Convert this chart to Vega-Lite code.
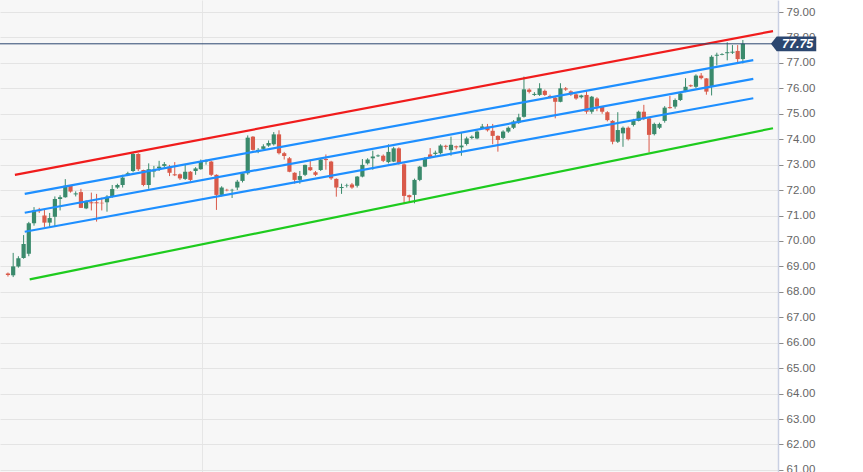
{
  "$schema": "https://vega.github.io/schema/vega-lite/v6.json",
  "width": 778,
  "height": 472,
  "autosize": {"type": "none"},
  "padding": {"left": 0, "top": 0, "right": 85, "bottom": 0},
  "background": "#ffffff",
  "config": {
    "view": {"fill": "#f7f7f7", "stroke": null},
    "font": "Liberation Sans"
  },
  "datasets": {
    "candles": [
      {"i":0,"o":68.72,"h":68.76,"l":68.60,"c":68.66},
      {"i":1,"o":68.65,"h":69.53,"l":68.58,"c":69.00},
      {"i":2,"o":69.00,"h":69.40,"l":68.95,"c":69.32},
      {"i":3,"o":69.33,"h":70.23,"l":69.30,"c":69.88},
      {"i":4,"o":69.50,"h":70.75,"l":69.40,"c":70.70},
      {"i":5,"o":70.70,"h":71.33,"l":70.60,"c":71.20},
      {"i":6,"o":71.22,"h":71.30,"l":71.10,"c":71.17},
      {"i":7,"o":71.00,"h":71.22,"l":70.55,"c":70.72},
      {"i":8,"o":70.72,"h":71.10,"l":70.55,"c":70.90},
      {"i":9,"o":70.95,"h":71.75,"l":70.55,"c":71.65},
      {"i":10,"o":71.65,"h":71.80,"l":71.20,"c":71.72},
      {"i":11,"o":71.72,"h":72.43,"l":71.70,"c":72.17},
      {"i":12,"o":72.17,"h":72.20,"l":71.90,"c":71.94},
      {"i":13,"o":71.83,"h":71.95,"l":71.75,"c":71.87},
      {"i":14,"o":71.92,"h":72.05,"l":71.30,"c":71.30},
      {"i":15,"o":71.28,"h":71.60,"l":71.25,"c":71.54},
      {"i":16,"o":71.52,"h":71.90,"l":71.20,"c":71.48},
      {"i":17,"o":71.52,"h":71.85,"l":70.76,"c":71.48},
      {"i":18,"o":71.50,"h":71.70,"l":71.20,"c":71.48},
      {"i":19,"o":71.52,"h":71.80,"l":71.15,"c":71.74},
      {"i":20,"o":71.74,"h":72.20,"l":71.70,"c":72.04},
      {"i":21,"o":72.10,"h":72.25,"l":72.05,"c":72.20},
      {"i":22,"o":72.20,"h":72.60,"l":72.10,"c":72.49},
      {"i":23,"o":72.58,"h":72.72,"l":72.55,"c":72.66},
      {"i":24,"o":72.75,"h":73.48,"l":72.70,"c":73.42},
      {"i":25,"o":73.42,"h":73.45,"l":72.75,"c":72.82},
      {"i":26,"o":72.79,"h":72.80,"l":72.15,"c":72.20},
      {"i":27,"o":72.20,"h":73.05,"l":72.05,"c":72.82},
      {"i":28,"o":72.73,"h":72.95,"l":72.50,"c":72.80},
      {"i":29,"o":72.86,"h":73.15,"l":72.75,"c":72.92},
      {"i":30,"o":72.95,"h":73.10,"l":72.90,"c":73.02},
      {"i":31,"o":72.92,"h":72.99,"l":72.55,"c":72.68},
      {"i":32,"o":72.62,"h":73.10,"l":72.55,"c":72.58},
      {"i":33,"o":72.62,"h":72.65,"l":72.40,"c":72.46},
      {"i":34,"o":72.44,"h":72.99,"l":72.40,"c":72.72},
      {"i":35,"o":72.72,"h":72.75,"l":72.35,"c":72.40},
      {"i":36,"o":72.75,"h":72.90,"l":72.60,"c":72.85},
      {"i":37,"o":72.82,"h":73.20,"l":72.80,"c":73.12},
      {"i":38,"o":73.12,"h":73.20,"l":73.00,"c":73.16},
      {"i":39,"o":73.12,"h":73.15,"l":72.55,"c":72.60},
      {"i":40,"o":72.60,"h":72.62,"l":71.22,"c":71.81},
      {"i":41,"o":71.81,"h":72.15,"l":71.75,"c":72.10},
      {"i":42,"o":72.01,"h":72.05,"l":71.95,"c":71.99},
      {"i":43,"o":71.99,"h":72.05,"l":71.69,"c":72.01},
      {"i":44,"o":72.10,"h":72.40,"l":72.00,"c":72.33},
      {"i":45,"o":72.36,"h":72.70,"l":72.30,"c":72.66},
      {"i":46,"o":72.66,"h":74.15,"l":72.60,"c":74.06},
      {"i":47,"o":74.10,"h":74.12,"l":73.55,"c":73.58},
      {"i":48,"o":73.52,"h":73.65,"l":73.45,"c":73.58},
      {"i":49,"o":73.62,"h":73.80,"l":73.58,"c":73.72},
      {"i":50,"o":73.75,"h":73.95,"l":73.70,"c":73.85},
      {"i":51,"o":73.80,"h":74.28,"l":73.75,"c":74.19},
      {"i":52,"o":74.19,"h":74.35,"l":73.40,"c":73.45},
      {"i":53,"o":73.45,"h":73.50,"l":73.20,"c":73.34},
      {"i":54,"o":73.25,"h":73.30,"l":72.70,"c":72.72},
      {"i":55,"o":72.68,"h":72.70,"l":72.25,"c":72.40},
      {"i":56,"o":72.40,"h":72.75,"l":72.25,"c":72.55},
      {"i":57,"o":72.60,"h":73.00,"l":72.55,"c":72.99},
      {"i":58,"o":72.90,"h":73.20,"l":72.75,"c":72.78},
      {"i":59,"o":72.70,"h":72.75,"l":72.55,"c":72.60},
      {"i":60,"o":72.79,"h":73.25,"l":72.75,"c":73.20},
      {"i":61,"o":73.22,"h":73.40,"l":72.80,"c":73.18},
      {"i":62,"o":73.12,"h":73.15,"l":72.40,"c":72.46},
      {"i":63,"o":72.44,"h":72.46,"l":71.74,"c":72.10},
      {"i":64,"o":72.08,"h":72.25,"l":71.85,"c":72.12},
      {"i":65,"o":72.18,"h":72.25,"l":72.10,"c":72.20},
      {"i":66,"o":72.22,"h":72.28,"l":72.05,"c":72.10},
      {"i":67,"o":72.17,"h":72.55,"l":72.10,"c":72.53},
      {"i":68,"o":72.53,"h":73.22,"l":72.50,"c":72.99},
      {"i":69,"o":73.05,"h":73.25,"l":73.00,"c":73.20},
      {"i":70,"o":73.25,"h":73.55,"l":72.80,"c":73.32},
      {"i":71,"o":73.33,"h":73.40,"l":73.30,"c":73.36},
      {"i":72,"o":73.35,"h":73.40,"l":73.10,"c":73.15},
      {"i":73,"o":73.10,"h":73.80,"l":73.05,"c":73.50},
      {"i":74,"o":73.12,"h":73.70,"l":73.10,"c":73.64},
      {"i":75,"o":73.64,"h":73.68,"l":73.00,"c":73.05},
      {"i":76,"o":73.01,"h":73.05,"l":71.48,"c":71.77},
      {"i":77,"o":71.80,"h":71.82,"l":71.50,"c":71.72},
      {"i":78,"o":71.81,"h":72.45,"l":71.48,"c":72.40},
      {"i":79,"o":72.40,"h":72.95,"l":72.35,"c":72.92},
      {"i":80,"o":72.92,"h":73.30,"l":72.90,"c":73.25},
      {"i":81,"o":73.40,"h":73.65,"l":73.25,"c":73.30},
      {"i":82,"o":73.42,"h":73.55,"l":73.35,"c":73.47},
      {"i":83,"o":73.45,"h":73.80,"l":73.40,"c":73.75},
      {"i":84,"o":73.74,"h":73.78,"l":73.60,"c":73.70},
      {"i":85,"o":73.57,"h":74.10,"l":73.35,"c":73.78},
      {"i":86,"o":73.72,"h":73.75,"l":73.60,"c":73.68},
      {"i":87,"o":73.68,"h":74.25,"l":73.35,"c":73.75},
      {"i":88,"o":73.81,"h":74.10,"l":73.75,"c":74.03},
      {"i":89,"o":74.05,"h":74.15,"l":74.00,"c":74.10},
      {"i":90,"o":74.03,"h":74.35,"l":74.00,"c":74.30},
      {"i":91,"o":74.43,"h":74.60,"l":74.40,"c":74.50},
      {"i":92,"o":74.50,"h":74.60,"l":74.30,"c":74.35},
      {"i":93,"o":74.33,"h":74.60,"l":73.80,"c":74.13},
      {"i":94,"o":74.13,"h":74.15,"l":73.51,"c":73.97},
      {"i":95,"o":74.05,"h":74.35,"l":74.00,"c":74.30},
      {"i":96,"o":74.30,"h":74.50,"l":74.25,"c":74.45},
      {"i":97,"o":74.45,"h":74.75,"l":74.40,"c":74.70},
      {"i":98,"o":74.65,"h":75.00,"l":74.60,"c":74.86},
      {"i":99,"o":74.88,"h":76.46,"l":74.85,"c":75.96},
      {"i":100,"o":75.95,"h":76.00,"l":75.80,"c":75.86},
      {"i":101,"o":75.74,"h":75.85,"l":75.70,"c":75.78},
      {"i":102,"o":75.74,"h":76.20,"l":75.70,"c":76.00},
      {"i":103,"o":75.90,"h":75.95,"l":75.70,"c":75.74},
      {"i":104,"o":75.70,"h":75.75,"l":75.60,"c":75.65},
      {"i":105,"o":75.63,"h":75.70,"l":74.82,"c":75.47},
      {"i":106,"o":75.47,"h":76.20,"l":75.45,"c":76.00},
      {"i":107,"o":76.00,"h":76.05,"l":75.90,"c":75.95},
      {"i":108,"o":75.88,"h":75.92,"l":75.70,"c":75.76},
      {"i":109,"o":75.76,"h":75.80,"l":75.55,"c":75.60},
      {"i":110,"o":75.65,"h":75.75,"l":75.60,"c":75.72},
      {"i":111,"o":75.74,"h":75.90,"l":75.00,"c":75.08},
      {"i":112,"o":75.08,"h":75.70,"l":75.00,"c":75.67},
      {"i":113,"o":75.60,"h":75.65,"l":75.10,"c":75.28},
      {"i":114,"o":75.28,"h":75.30,"l":75.00,"c":75.08},
      {"i":115,"o":75.06,"h":75.10,"l":74.70,"c":74.75},
      {"i":116,"o":74.72,"h":74.75,"l":73.80,"c":73.90},
      {"i":117,"o":73.90,"h":75.06,"l":73.85,"c":74.36},
      {"i":118,"o":74.23,"h":74.50,"l":73.70,"c":74.45},
      {"i":119,"o":74.45,"h":74.50,"l":73.95,"c":74.00},
      {"i":120,"o":74.56,"h":74.80,"l":74.50,"c":74.72},
      {"i":121,"o":74.72,"h":75.12,"l":74.70,"c":75.08},
      {"i":122,"o":75.08,"h":75.35,"l":74.75,"c":74.80},
      {"i":123,"o":74.82,"h":74.85,"l":73.48,"c":74.17},
      {"i":124,"o":74.20,"h":74.65,"l":74.15,"c":74.60},
      {"i":125,"o":74.45,"h":74.65,"l":74.40,"c":74.60},
      {"i":126,"o":74.72,"h":75.30,"l":74.65,"c":75.24},
      {"i":127,"o":75.26,"h":75.70,"l":75.20,"c":75.22},
      {"i":128,"o":75.28,"h":75.60,"l":75.20,"c":75.54},
      {"i":129,"o":75.54,"h":75.85,"l":75.50,"c":75.80},
      {"i":130,"o":75.90,"h":76.40,"l":75.85,"c":76.06},
      {"i":131,"o":76.12,"h":76.15,"l":76.05,"c":76.08},
      {"i":132,"o":76.06,"h":76.55,"l":76.00,"c":76.50},
      {"i":133,"o":76.50,"h":76.60,"l":76.35,"c":76.40},
      {"i":134,"o":76.39,"h":76.40,"l":75.75,"c":75.87},
      {"i":135,"o":76.06,"h":77.30,"l":75.72,"c":77.24},
      {"i":136,"o":77.28,"h":77.40,"l":76.90,"c":77.32},
      {"i":137,"o":77.32,"h":77.38,"l":77.30,"c":77.35},
      {"i":138,"o":77.38,"h":77.81,"l":77.10,"c":77.42},
      {"i":139,"o":77.40,"h":77.70,"l":77.35,"c":77.44},
      {"i":140,"o":77.47,"h":77.70,"l":77.00,"c":77.15},
      {"i":141,"o":77.15,"h":77.90,"l":76.98,"c":77.75}
    ],
    "lines": [
      {"line":"red","i":1.33,"v":72.60},
      {"line":"red","i":146.78,"v":78.25},
      {"line":"blue1","i":3.22,"v":71.85},
      {"line":"blue1","i":143.0,"v":77.11},
      {"line":"blue2","i":3.22,"v":71.11},
      {"line":"blue2","i":143.0,"v":76.37},
      {"line":"blue3","i":3.22,"v":70.36},
      {"line":"blue3","i":143.0,"v":75.61},
      {"line":"green","i":4.17,"v":68.49},
      {"line":"green","i":146.78,"v":74.43}
    ],
    "price": [{"p": 77.75}]
  },
  "layer": [
    {
      "data": {"name": "candles"},
      "mark": {"type": "rule", "strokeWidth": 1},
      "encoding": {
        "x": {"field": "i", "type": "quantitative",
              "scale": {"domain": [-0.568, 146.78], "nice": false, "zero": false},
              "axis": {"values": [37.3], "grid": true, "gridColor": "#e6e6e6", "labels": false, "ticks": false, "domain": false, "title": null}},
        "y": {"field": "l", "type": "quantitative",
              "scale": {"domain": [60.917, 79.472], "nice": false, "zero": false},
              "axis": {"orient": "right", "values": [61,62,63,64,65,66,67,68,69,70,71,72,73,74,75,76,77,78,79],
                       "tickCount": 30,
                       "format": ".2f", "title": null, "grid": true, "gridColor": "#e4e4e4",
                       "labelOverlap": false, "labelBound": false, "labelFlush": false,
                       "domainColor": "#c9d0e3", "domainWidth": 1.5, "tickColor": "#8a8a8a", "tickSize": 5,
                       "labelColor": "#666666", "labelFontSize": 11.5, "labelFont": "Liberation Sans", "labelPadding": 3}},
        "y2": {"field": "h"},
        "color": {"condition": {"test": "datum.o <= datum.c", "value": "#3a8a6c"}, "value": "#d95a4a"}
      }
    },
    {
      "data": {"name": "candles"},
      "mark": {"type": "bar", "size": 4.2},
      "encoding": {
        "x": {"field": "i", "type": "quantitative"},
        "y": {"field": "o", "type": "quantitative"},
        "y2": {"field": "c"},
        "color": {"condition": {"test": "datum.o <= datum.c", "value": "#3a8a6c"}, "value": "#d95a4a"}
      }
    },
    {
      "data": {"name": "lines"},
      "mark": {"type": "line", "strokeWidth": 2.2, "clip": true},
      "encoding": {
        "x": {"field": "i", "type": "quantitative"},
        "y": {"field": "v", "type": "quantitative"},
        "color": {"field": "line", "type": "nominal",
                  "scale": {"domain": ["red","blue1","blue2","blue3","green"],
                            "range": ["#f01c1c","#1e8fff","#1e8fff","#1e8fff","#1ecb1e"]},
                  "legend": null}
      }
    },
    {
      "data": {"name": "price"},
      "mark": {"type": "rule", "color": "#2c4770", "strokeWidth": 1},
      "encoding": {"y": {"field": "p", "type": "quantitative"}}
    },
    {
      "data": {"name": "price"},
      "mark": {"type": "point", "shape": "M-0.09,0 L0.16,-0.32 L1.88,-0.32 L1.88,0.32 L0.16,0.32 Z",
               "size": 2116, "filled": true, "fill": "#2c4770", "opacity": 1, "strokeWidth": 0, "clip": false},
      "encoding": {"x": {"datum": 146.78, "type": "quantitative"}, "y": {"field": "p", "type": "quantitative"}}
    },
    {
      "data": {"name": "price"},
      "mark": {"type": "text", "align": "left", "baseline": "middle", "dx": 9, "dy": 0.5,
               "color": "#ffffff", "fontWeight": "bold", "fontStyle": "italic", "fontSize": 12.5, "font": "Liberation Sans", "clip": false},
      "encoding": {"x": {"datum": 146.78, "type": "quantitative"}, "y": {"field": "p", "type": "quantitative"},
                   "text": {"field": "p", "type": "quantitative", "format": ".2f"}}
    }
  ]
}
